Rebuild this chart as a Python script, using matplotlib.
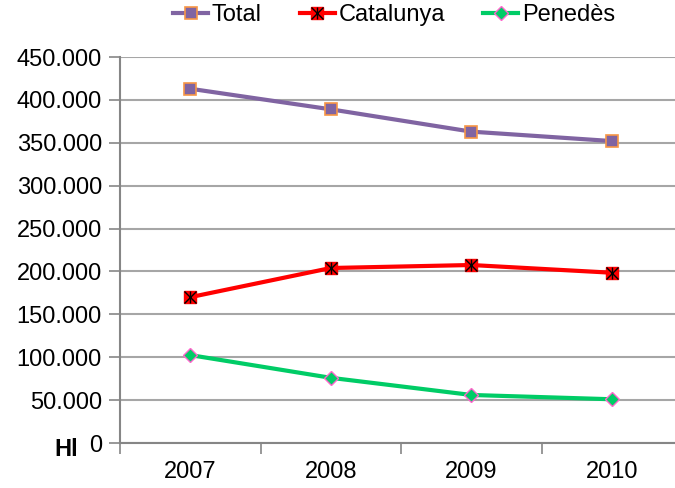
import numpy as np
from matplotlib import pyplot as plt
from matplotlib.legend_handler import HandlerTuple
from matplotlib.ticker import FuncFormatter, FixedLocator

plt.rcParams['font.family'] = ['Liberation Sans', 'DejaVu Sans']

years = ['2007', '2008', '2009', '2010']
total = [413000, 389000, 363000, 352000]
catalunya = [170000, 204000, 207500, 198500]
penedes = [102500, 76000, 56000, 51000]

fs = 17
grid_col = '#a6a6a6'
spine_col = '#868686'

fig = plt.figure(figsize=(6.75, 4.88), dpi=100)
ax = fig.add_axes([120/675, 45/488, 562/675, 386/488])

x = np.arange(len(years))

l_tot, = ax.plot(x, total, color='#8064a2', lw=3, marker='s', ms=8.5,
                 mfc='#8064a2', mec='#f79646', mew=1.2, label='Total', zorder=3)
l_cat, = ax.plot(x, catalunya, color='#ff0000', lw=3, marker='s', ms=8.5,
                 mfc='#ff0000', mec='#ff0000', label='Catalunya', zorder=3)
x_cat, = ax.plot(x, catalunya, ls='none', marker='x', ms=8, mec='black', mew=1.0, zorder=4)
v_cat, = ax.plot(x, catalunya, ls='none', marker='|', ms=9, mec='black', mew=1.0, zorder=4)
l_pen, = ax.plot(x, penedes, color='#00cc66', lw=3, marker='D', ms=7,
                 mfc='#00cc66', mec='#ff66cc', mew=1.0, label='Penedès', zorder=3)

ax.set_xlim(-0.5, 3.5)
ax.set_ylim(0, 450000)
ax.set_yticks(np.arange(0, 450001, 50000))
ax.yaxis.set_major_formatter(FuncFormatter(lambda v, p: '0' if v == 0 else f'{int(v):,}'.replace(',', '.')))
ax.set_xticks(x)
ax.set_xticklabels(years)
ax.xaxis.set_minor_locator(FixedLocator([-0.5, 0.5, 1.5, 2.5, 3.5]))
ax.tick_params(axis='x', which='major', length=0, labelsize=fs, pad=13)
ax.tick_params(axis='x', which='minor', length=8, color=spine_col, width=1.2)
ax.tick_params(axis='y', length=8, color=spine_col, width=1.2, labelsize=fs, pad=5)

ax.grid(axis='y', color=grid_col, lw=1.5)
ax.set_axisbelow(True)
for s in ['top', 'right']:
    ax.spines[s].set_visible(False)
for s in ['left', 'bottom']:
    ax.spines[s].set_color(spine_col)
    ax.spines[s].set_linewidth(1.5)

fig.text(66/675, 1 - 449/488, 'Hl', fontsize=fs, fontweight='bold', ha='center', va='center')

fig.legend([l_tot, (l_cat, x_cat, v_cat), l_pen], ['Total', 'Catalunya', 'Penedès'],
           handler_map={tuple: HandlerTuple(ndivide=1)},
           loc='center', bbox_to_anchor=(394/675, 1 - 15/488), ncol=3, frameon=False,
           fontsize=fs, handlelength=1.5, handletextpad=0.15, columnspacing=1.6,
           borderaxespad=0, borderpad=0)

plt.savefig('out.png', dpi=100)
